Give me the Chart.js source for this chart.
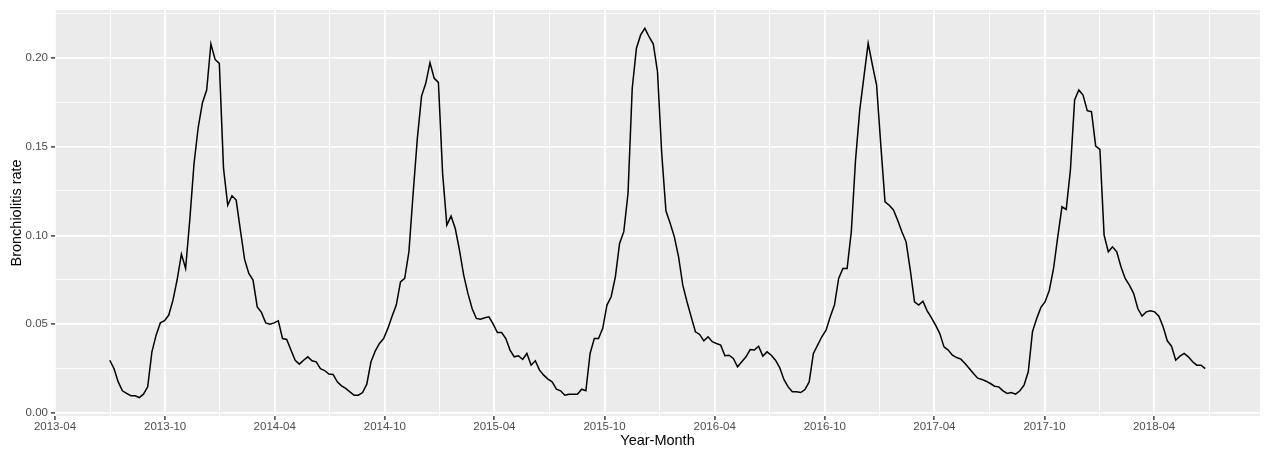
<!DOCTYPE html>
<html>
<head>
<meta charset="utf-8">
<script src="https://cdn.jsdelivr.net/npm/chart.js@4.4.1/dist/chart.umd.min.js"></script>
<style>
html,body{margin:0;padding:0;background:#ffffff;}
canvas{display:block;}
</style>
</head>
<body>
<canvas id="c" width="1266" height="452"></canvas>
<script>
// ---------------- data ----------------
const startDate = '2013-07-01';   // first weekly observation (Monday)
const rate = [
  0.0298,0.0251,0.0176,0.0126,0.0111,0.0098,0.0098,0.0088,0.0107,0.0148,
  0.0345,0.0439,0.0508,0.0520,0.0552,0.0636,0.0752,0.0895,0.0814,0.1090,
  0.1405,0.1610,0.1747,0.1818,0.2077,0.1990,0.1968,0.1377,0.1170,0.1223,
  0.1199,0.1030,0.0865,0.0786,0.0749,0.0598,0.0567,0.0508,0.0501,0.0508,
  0.0520,0.0420,0.0415,0.0355,0.0298,0.0276,0.0298,0.0317,0.0295,0.0289,
  0.0250,0.0240,0.0220,0.0218,0.0176,0.0154,0.0139,0.0120,0.0101,0.0101,
  0.0116,0.0163,0.0289,0.0349,0.0392,0.0420,0.0477,0.0546,0.0608,0.0739,
  0.0758,0.0908,0.1236,0.1546,0.1784,0.1856,0.1972,0.1884,0.1861,0.1349,
  0.1058,0.1109,0.1039,0.0917,0.0777,0.0674,0.0589,0.0533,0.0529,0.0537,
  0.0542,0.0501,0.0454,0.0454,0.0420,0.0355,0.0317,0.0323,0.0302,0.0336,
  0.0270,0.0295,0.0242,0.0214,0.0192,0.0176,0.0135,0.0126,0.0101,0.0107,
  0.0107,0.0107,0.0135,0.0126,0.0336,0.0420,0.0420,0.0477,0.0608,0.0655,
  0.0767,0.0955,0.1021,0.1236,0.1827,0.2053,0.2128,0.2165,0.2118,0.2077,
  0.1921,0.1462,0.1139,0.1068,0.0992,0.0880,0.0720,0.0627,0.0542,0.0458,
  0.0443,0.0407,0.0430,0.0402,0.0392,0.0383,0.0323,0.0326,0.0308,0.0261,
  0.0289,0.0317,0.0358,0.0355,0.0377,0.0321,0.0345,0.0326,0.0298,0.0257,
  0.0190,0.0148,0.0120,0.0120,0.0116,0.0133,0.0176,0.0336,0.0383,0.0430,
  0.0467,0.0542,0.0608,0.0758,0.0814,0.0814,0.1021,0.1424,0.1705,0.1893,
  0.2081,0.1959,0.1846,0.1508,0.1189,0.1170,0.1143,0.1086,0.1021,0.0964,
  0.0805,0.0627,0.0608,0.0630,0.0576,0.0537,0.0495,0.0448,0.0373,0.0355,
  0.0326,0.0313,0.0304,0.0280,0.0251,0.0223,0.0197,0.0190,0.0180,0.0167,
  0.0152,0.0148,0.0126,0.0111,0.0116,0.0107,0.0126,0.0158,0.0233,0.0458,
  0.0533,0.0595,0.0627,0.0692,0.0814,0.0992,0.1161,0.1146,0.1368,0.1762,
  0.1818,0.1790,0.1702,0.1696,0.1503,0.1484,0.1002,0.0908,0.0936,0.0908,
  0.0824,0.0758,0.0720,0.0674,0.0589,0.0546,0.0570,0.0576,0.0570,0.0546,
  0.0486,0.0407,0.0377,0.0298,0.0321,0.0336,0.0317,0.0289,0.0270,0.0270,
  0.0251
];
const xTickLabels = ['2013-04','2013-10','2014-04','2014-10','2015-04','2015-10',
                     '2016-04','2016-10','2017-04','2017-10','2018-04'];
const yTickValues = [0.00, 0.05, 0.10, 0.15, 0.20];
const xTitle = 'Year-Month';
const yTitle = 'Bronchiolitis rate';

// ---------------- helpers ----------------
const FONT = '"Liberation Sans", Arial, "DejaVu Sans", sans-serif';
function dayOf(s){
  const p = s.split('-').map(Number);
  return Date.UTC(p[0], p[1]-1, p[2] || 1) / 86400000;
}
const start = dayOf(startDate);
const points = rate.map((v,i) => ({x: start + 7*i, y: v}));

// ggplot-like 5% expansion of the data range
const xs = points.map(p => p.x), ys = points.map(p => p.y);
const xLo = Math.min(...xs), xHi = Math.max(...xs);
const yLo = Math.min(...ys), yHi = Math.max(...ys);
const xMin = xLo - 0.05*(xHi-xLo), xMax = xHi + 0.05*(xHi-xLo);
const yMin = yLo - 0.05*(yHi-yLo), yMax = yHi + 0.05*(yHi-yLo);

// major + minor ticks
function buildTicks(majors, labels, lo, hi){
  const out = [];
  const step = majors[1]-majors[0];
  const ext = [majors[0]-step].concat(majors, [majors[majors.length-1]+step]);
  majors.forEach((m,i) => out.push({value:m, isMajor:true, lab:labels[i]}));
  for (let i=0;i<ext.length-1;i++){
    const mid = (ext[i]+ext[i+1])/2;
    out.push({value:mid, isMajor:false, lab:''});
  }
  return out.filter(t => t.value >= lo && t.value <= hi).sort((a,b)=>a.value-b.value);
}
const xTicks = buildTicks(xTickLabels.map(dayOf), xTickLabels, xMin, xMax);
const yTicks = buildTicks(yTickValues, yTickValues.map(v => v.toFixed(2)), yMin, yMax);

const panelBg = {
  id: 'panelBg',
  beforeDraw(chart){
    const a = chart.chartArea, ctx = chart.ctx;
    ctx.save();
    ctx.fillStyle = '#EBEBEB';
    ctx.fillRect(a.left, a.top, a.right - a.left, a.bottom - a.top);
    ctx.restore();
  }
};

function gridOpts(){
  return {
    color: '#FFFFFF',
    lineWidth: c => (c.tick && c.tick.isMajor) ? 1.8 : 0.9,
    tickLength: 4,
    tickColor: c => (c.tick && c.tick.isMajor) ? '#333333' : 'rgba(0,0,0,0)',
    tickWidth: c => (c.tick && c.tick.isMajor) ? 1.4 : 1,
    drawOnChartArea: true,
    drawTicks: true
  };
}

new Chart(document.getElementById('c'), {
  type: 'line',
  data: {
    datasets: [{
      data: points,
      borderColor: '#000000',
      borderWidth: 1.5,
      pointRadius: 0,
      pointHoverRadius: 0,
      fill: false,
      tension: 0
    }]
  },
  options: {
    responsive: false,
    animation: false,
    events: [],
    layout: { padding: { left: 0, right: 6, top: 9, bottom: 0 } },
    plugins: { legend: { display: false }, tooltip: { enabled: false } },
    scales: {
      x: {
        type: 'linear',
        min: xMin, max: xMax,
        afterBuildTicks: s => { s.ticks = xTicks.map(t => Object.assign({}, t)); },
        afterFit: s => { s.height = 36; },
        ticks: {
          autoSkip: false, maxRotation: 0, minRotation: 0, padding: 0,
          color: '#4D4D4D', font: { family: FONT, size: 11.5 },
          callback: (v, i, t) => t[i].lab || ''
        },
        grid: gridOpts(),
        border: { display: false },
        title: { display: true, text: xTitle, color: '#000000',
                 font: { family: FONT, size: 14.5 }, padding: { top: 0, bottom: 2 } }
      },
      y: {
        type: 'linear',
        min: yMin, max: yMax,
        afterBuildTicks: s => { s.ticks = yTicks.map(t => Object.assign({}, t)); },
        afterFit: s => { s.width = 55; },
        ticks: {
          autoSkip: false, padding: 3,
          color: '#4D4D4D', font: { family: FONT, size: 11.5 },
          callback: (v, i, t) => t[i].lab || ''
        },
        grid: gridOpts(),
        border: { display: false },
        title: { display: true, text: yTitle, color: '#000000',
                 font: { family: FONT, size: 14.5 }, padding: { top: 8, bottom: 0 } }
      }
    }
  },
  plugins: [panelBg]
});
</script>
</body>
</html>
